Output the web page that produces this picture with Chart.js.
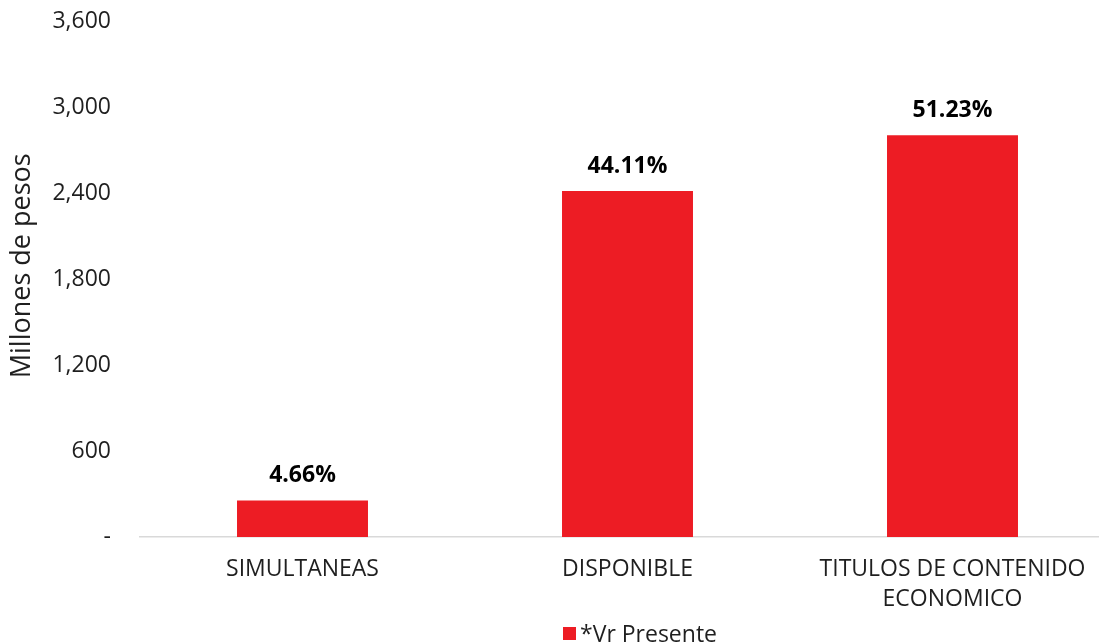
<!DOCTYPE html>
<html>
<head>
<meta charset="utf-8">
<script src="https://cdn.jsdelivr.net/npm/chart.js@4/dist/chart.umd.min.js"></script>
<style>
  html, body { margin: 0; padding: 0; background: #fff; overflow: hidden; }
  #wrap { position: relative; width: 1099px; height: 644px; overflow: hidden; }
  #chart-box { position: absolute; left: 0; top: -13px; width: 1130px; height: 657px; }
  #legend {
    position: absolute; left: 563px; top: 617px;
    font-family: 'Open Sans', sans-serif; font-size: 23px; color: #1f1f1f;
    display: flex; align-items: center; white-space: nowrap;
  }
  #legend span.sw { display: inline-block; width: 13px; height: 13px; background: #ED1C24; margin-right: 4px; }
</style>
</head>
<body>
<div id="wrap">
  <div id="chart-box"><canvas id="chart-bars"></canvas></div>
  <div id="legend"><span class="sw"></span>*Vr Presente</div>
</div>
<script>
const categories = ['SIMULTANEAS', 'DISPONIBLE', ['TITULOS DE CONTENIDO', 'ECONOMICO']];
const vrPresente = [255, 2417, 2807];
const pctLabels = ['4.66%', '44.11%', '51.23%'];
const yTicks = [0, 600, 1200, 1800, 2400, 3000, 3600];
const yTitle = 'Millones de pesos';

const FONT = "'Open Sans', sans-serif";
const TEXT = '#1f1f1f';

// percent labels over the bars + y axis title
const barLabels = {
  id: 'barLabels',
  afterDatasetsDraw(chart) {
    const ctx = chart.ctx;
    const meta = chart.getDatasetMeta(0);
    ctx.save();
    ctx.font = "bold 23px " + FONT;
    ctx.fillStyle = '#000';
    ctx.textAlign = 'center';
    ctx.textBaseline = 'middle';
    meta.data.forEach((bar, i) => {
      ctx.fillText(pctLabels[i], bar.x, bar.y - 25);
    });
    ctx.restore();

    ctx.save();
    ctx.translate(22, chart.chartArea.top + 244);
    ctx.rotate(-Math.PI / 2);
    ctx.font = "27px " + FONT;
    ctx.fillStyle = TEXT;
    ctx.textAlign = 'center';
    ctx.textBaseline = 'middle';
    ctx.fillText(yTitle, 0, 0);
    ctx.restore();
  }
};

const ctx = document.getElementById('chart-bars').getContext('2d');
new Chart(ctx, {
  type: 'bar',
  data: {
    labels: categories,
    datasets: [{
      label: '*Vr Presente',
      data: vrPresente,
      backgroundColor: '#ED1C24',
      borderWidth: 0,
      categoryPercentage: 1,
      barPercentage: 0.403,
    }]
  },
  options: {
    responsive: true,
    maintainAspectRatio: false,
    animation: false,
    layout: { padding: { top: 0, right: 15, bottom: 0, left: 0 } },
    plugins: { legend: { display: false }, tooltip: { enabled: false } },
    scales: {
      x: {
        grid: { display: false },
        border: { display: true, color: '#d9d9d9', width: 1.5 },
        ticks: { font: { family: FONT, size: 23, lineHeight: 1.3 }, color: TEXT, padding: 10, maxRotation: 0, autoSkip: false },
        afterFit(s) { s.height = 107; }
      },
      y: {
        min: 0,
        max: 3600,
        afterBuildTicks(s) { s.ticks = yTicks.map(v => ({ value: v })); },
        grid: { display: false },
        border: { display: false },
        ticks: {
          font: { family: FONT, size: 23 },
          color: TEXT,
          padding: 21,
          callback: v => v === 0 ? '-' : v.toLocaleString('en-US')
        },
        afterFit(s) { s.width = 140; }
      }
    }
  },
  plugins: [barLabels]
});
</script>
</body>
</html>
